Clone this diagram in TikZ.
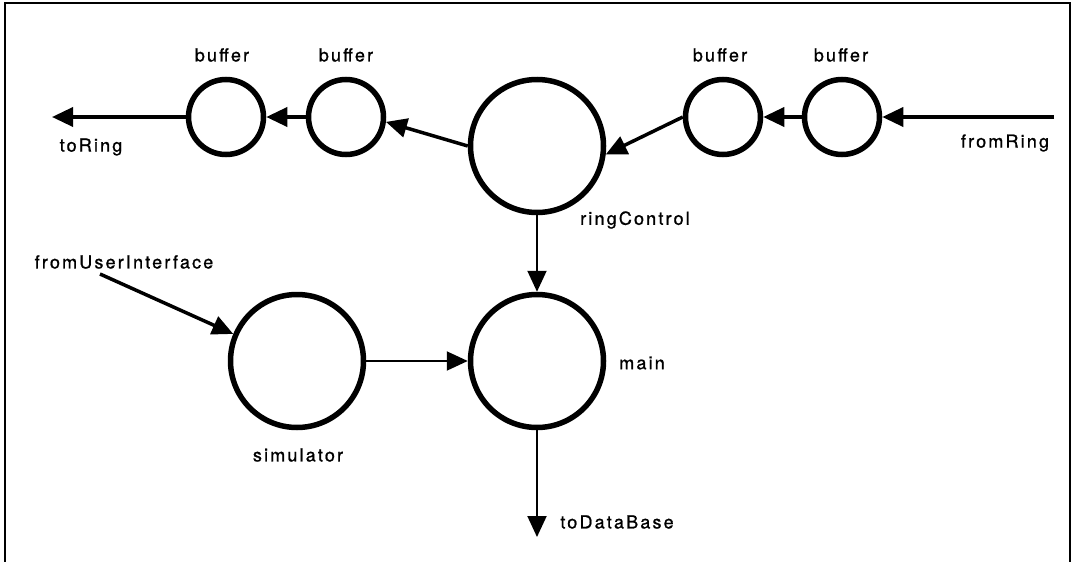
\documentclass[tikz,border=0pt]{standalone}
\usepackage{fontspec}
\setmainfont{TeX Gyre Heros}[LetterSpace=12,FakeBold=1]
\usetikzlibrary{arrows.meta}

\begin{document}
\begin{tikzpicture}[x=1pt,y=-1pt,
  proc/.style={circle,draw,line width=5.5pt,minimum size=#1,inner sep=0pt}, proc/.default=75pt,
  lbl/.style={inner sep=0pt,font=\fontsize{18}{22}\selectfont},
  flow/.style={line width=3.5pt,-{Triangle[length=21pt,width=19pt]}},
  thinflow/.style={flow,line width=2pt}]
  \useasboundingbox (0,0) rectangle (1074,562);
  \draw[line width=1.5pt] (5,562) -- (5,3) -- (1070,3) -- (1070,562);
  \node[proc] (bufA) at (226,117) {}; \node[proc] (bufB) at (346,117) {}; \node[proc=133pt] (ring) at (537,146) {};
  \node[proc] (bufC) at (723,117) {}; \node[proc] (bufD) at (842,117) {};
  \node[proc=133pt] (sim) at (297,361) {}; \node[proc=133pt] (main) at (537,361) {};
  \node[lbl] (bufAlbl) at (222,55) {buffer}; \node[lbl] (bufBlbl) at (346,55) {buffer}; \node[lbl] (bufClbl) at (720,55) {buffer}; \node[lbl] (bufDlbl) at (841,55) {buffer};
  \node[lbl] (ringlbl) at (635,220) {ringControl}; \node[lbl] (simlbl) at (298,455) {simulator}; \node[lbl] (mainlbl) at (642,363) {main};
  \node[lbl] (toRinglbl) at (91,147) {toRing}; \node[lbl] (fromRinglbl) at (1005,143) {fromRing}; \node[lbl] (fromUIlbl) at (124,262) {fromUserInterface}; \node[lbl] (toDBlbl) at (617,522) {toDataBase};
  \coordinate (toRing) at (52,117); \coordinate (fromRing) at (1054,117); \coordinate (fromUI) at (100,274); \coordinate (toDB) at (537,537);
  \draw[flow] (bufA.west) -- (toRing); \draw[flow] (bufB.west) -- (bufA.east); \draw[flow] (ring.west) -- (bufB.-7);
  \draw[flow] (bufC.west) -- (ring.-7); \draw[flow] (bufD.west) -- (bufC.east); \draw[flow] (fromRing) -- (bufD.east);
  \draw[flow] (fromUI) -- (sim.157); \draw[thinflow] (sim.east) -- (main.west); \draw[thinflow] (ring.south) -- (main.north); \draw[thinflow] (main.south) -- (toDB);
\end{tikzpicture}
\end{document}
